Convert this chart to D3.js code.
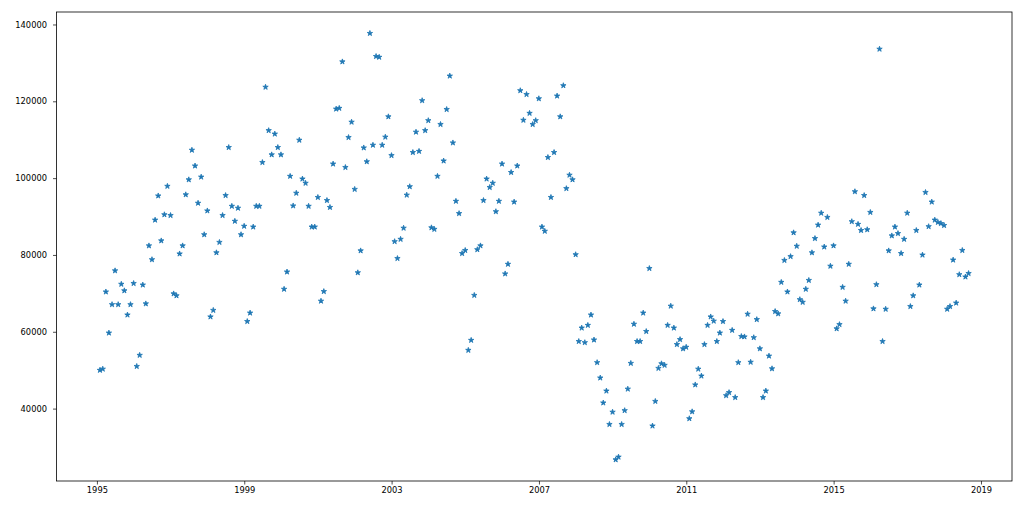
<!DOCTYPE html>
<html>
<head>
<meta charset="utf-8">
<script src="https://cdn.jsdelivr.net/npm/d3@7"></script>
<style>
  body { margin: 0; background: white; }
  svg { display: block; }
  .axis text { font-family: "DejaVu Sans", sans-serif; font-size: 8.3px; fill: #000; }
</style>
</head>
<body>
<script>
// monthly series, first month Jan 1995 (month-end dates)
const startYear = 1995;
const startMonth = 0;

const values = [
  50000, 50300, 70400, 59700, 67100, 75900, 67100, 72400, 70700, 64400, 67100, 72600,
  51000, 53900, 72200, 67300, 82400, 78800, 89100, 95400, 83700, 90500, 97900, 90300,
  69900, 69400, 80300, 82400, 95700, 99600, 107300, 103200, 93500, 100300, 85300, 91500,
  63900, 65600, 80600, 83300, 90300, 95500, 108000, 92700, 88800, 92200, 85300, 87500,
  62700, 64900, 87300, 92700, 92700, 104100, 123700, 112400, 106100, 111500, 108000, 106100,
  71100, 75600, 100500, 92800, 96100, 109900, 99800, 98700, 92700, 87300, 87300, 95000,
  68000, 70500, 94200, 92400, 103700, 118000, 118200, 130300, 102800, 110600, 114600, 97100,
  75400, 81100, 107900, 104300, 137700, 108600, 131700, 131500, 108600, 110700, 116000, 105900,
  83500, 79100, 84100, 87000, 95600, 97800, 106700, 112000, 107000, 120200, 112400, 115000,
  87100, 86700, 100500, 114000, 104500, 117900, 126600, 109200, 94000, 90800, 80400, 81200,
  55200, 57800, 69500, 81400, 82400, 94200, 99800, 97600, 98700, 91300, 94000, 103700,
  75100, 77600, 101500, 93800, 103200, 122800, 115100, 121800, 116900, 114000, 115000, 120700,
  87300, 86200, 105400, 95000, 106700, 121400, 116000, 124100, 97300, 100800, 99600, 80100,
  57500, 61000, 57200, 61700, 64400, 57900, 52000, 48000, 41500, 44600, 35900, 39100,
  26700, 27400, 35900, 39500, 45100, 51800, 62000, 57500, 57500, 64900, 60100, 76500,
  35500, 41900, 50500, 51700, 51300, 61700, 66700, 61000, 56700, 58000, 55600, 56000,
  37400, 39200, 46200, 50300, 48500, 56700, 61700, 63900, 62800, 57500, 59700, 62700,
  43400, 44200, 60400, 42900, 52000, 58800, 58700, 64600, 52100, 58500, 63200, 55600,
  42900, 44600, 53700, 50400, 65300, 64700, 72900, 78600, 70400, 79600, 85800, 82300,
  68400, 67700, 71100, 73400, 80600, 84300, 87800, 90900, 82100, 89800, 77100, 82400,
  60800, 61900, 71600, 68000, 77600, 88700, 96500, 88000, 86400, 95500, 86600, 91100,
  66000, 72300, 133600, 57500, 65900, 81100, 85000, 87300, 85600, 80400, 84100, 90900,
  66600, 69400, 86400, 72200, 80000, 96300, 87400, 93800, 89100, 88500, 88200, 87700,
  65900, 66600, 78700, 67500, 74900, 81200, 74300, 75200
];

const yTicks = [40000, 60000, 80000, 100000, 120000, 140000];
const xTickYears = [1995, 1999, 2003, 2007, 2011, 2015, 2019];

const dates = values.map((v, i) => new Date(startYear, startMonth + i + 1, 0));
const data = values.map((v, i) => ({ date: dates[i], value: v }));

const width = 1023;
const height = 512;
const margin = { top: 12, right: 11, bottom: 31, left: 56.5 };

const svg = d3.select("body")
  .append("svg")
  .attr("width", width)
  .attr("height", height);

svg.append("rect")
  .attr("width", width)
  .attr("height", height)
  .attr("fill", "white");

// matplotlib style 5% padding on both axes
const xExt = d3.extent(dates, d => d.getTime());
const xPad = (xExt[1] - xExt[0]) * 0.05;
const x = d3.scaleTime()
  .domain([new Date(xExt[0] - xPad), new Date(xExt[1] + xPad)])
  .range([margin.left, width - margin.right]);

const yExt = d3.extent(values);
const yPad = (yExt[1] - yExt[0]) * 0.05;
const y = d3.scaleLinear()
  .domain([yExt[0] - yPad, yExt[1] + yPad])
  .range([height - margin.bottom, margin.top]);

const xAxis = d3.axisBottom(x)
  .tickValues(xTickYears.map(yr => new Date(yr, 0, 1)))
  .tickFormat(d3.timeFormat("%Y"))
  .tickSize(3.5)
  .tickPadding(2.5)
  .tickSizeOuter(0);

const yAxis = d3.axisLeft(y)
  .tickValues(yTicks)
  .tickFormat(d3.format("d"))
  .tickSize(3.5)
  .tickPadding(6)
  .tickSizeOuter(0);

svg.append("g")
  .attr("class", "axis")
  .attr("transform", `translate(0,${height - margin.bottom})`)
  .call(xAxis)
  .call(g => g.select(".domain").remove())
  .call(g => g.selectAll("line").attr("stroke", "#000").attr("stroke-width", 0.7));

svg.append("g")
  .attr("class", "axis")
  .attr("transform", `translate(${margin.left},0)`)
  .call(yAxis)
  .call(g => g.select(".domain").remove())
  .call(g => g.selectAll("line").attr("stroke", "#000").attr("stroke-width", 0.7));

// star markers
const star = d3.symbol().type(d3.symbolStar).size(9);

svg.selectAll(".pt")
  .data(data)
  .enter()
  .append("path")
  .attr("class", "pt")
  .attr("d", star)
  .attr("transform", d => `translate(${x(d.date)},${y(d.value)})`)
  .attr("fill", "#1f77b4")
  .attr("stroke", "#1f77b4")
  .attr("stroke-width", 0.8)
  .attr("stroke-linejoin", "miter");

// frame
svg.append("rect")
  .attr("x", margin.left)
  .attr("y", margin.top)
  .attr("width", width - margin.right - margin.left)
  .attr("height", height - margin.bottom - margin.top)
  .attr("fill", "none")
  .attr("stroke", "#000")
  .attr("stroke-width", 0.8);
</script>
</body>
</html>
